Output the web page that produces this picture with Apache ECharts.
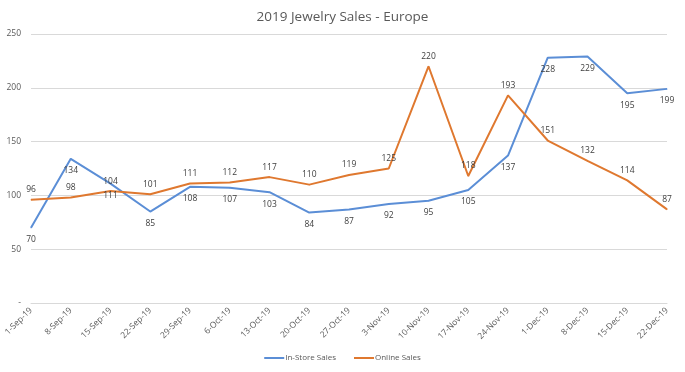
<!DOCTYPE html>
<html>
<head>
<meta charset="utf-8">
<script src="https://cdn.jsdelivr.net/npm/echarts@6/dist/echarts.min.js"></script>
<style>html,body{margin:0;padding:0;background:#fff;}#c{width:685px;height:372px;}</style>
</head>
<body>
<div id="c"></div>
<script>
const categories = ['1-Sep-19','8-Sep-19','15-Sep-19','22-Sep-19','29-Sep-19','6-Oct-19','13-Oct-19','20-Oct-19','27-Oct-19','3-Nov-19','10-Nov-19','17-Nov-19','24-Nov-19','1-Dec-19','8-Dec-19','15-Dec-19','22-Dec-19'];
const inStoreSales = [70,134,111,85,108,107,103,84,87,92,95,105,137,228,229,195,199];
const onlineSales = [96,98,104,101,111,112,117,110,119,125,220,118,193,151,132,114,87];
const seriesNames = ['In-Store Sales','Online Sales'];

const FONT = '"Open Sans", "Noto Sans", sans-serif';
const chart = echarts.init(document.getElementById('c'));
chart.setOption({
  animation: false,
  title: {
    text: '2019 Jewelry Sales - Europe',
    left: 'center', top: 5,
    textStyle: {fontFamily: FONT, fontSize: 13.5, fontWeight: 'normal', color: '#595959'}
  },
  legend: {
    bottom: 5, left: 'center',
    itemWidth: 20, itemHeight: 2, itemGap: 18,
    icon: 'rect',
    textStyle: {fontFamily: FONT, fontSize: 8, color: '#595959', padding: [0,0,0,-4]},
    data: seriesNames
  },
  grid: {left: 31, right: 18, top: 34, bottom: 69, containLabel: false},
  xAxis: {
    type: 'category', data: categories, boundaryGap: false,
    axisLine: {show: true, lineStyle: {color: '#d9d9d9'}},
    axisTick: {show: false},
    axisLabel: {rotate: 45, fontFamily: FONT, fontSize: 8.5, color: '#595959', interval: 0, margin: 6}
  },
  yAxis: {
    type: 'value', min: 0, max: 250, interval: 50,
    axisLine: {show: false}, axisTick: {show: false},
    splitLine: {lineStyle: {color: '#d9d9d9'}},
    axisLabel: {fontFamily: FONT, fontSize: 8.5, color: '#595959', margin: 10,
      formatter: v => v === 0 ? '-' : String(v)}
  },
  series: [
    {
      name: seriesNames[0], type: 'line', data: inStoreSales,
      showSymbol: true, symbol: 'circle', symbolSize: 1,
      lineStyle: {color: '#5B8ED6', width: 2}, itemStyle: {color: '#5B8ED6'},
      label: {show: true, position: 'bottom', distance: 7, fontFamily: FONT, fontSize: 8.5, color: '#404040'}
    },
    {
      name: seriesNames[1], type: 'line', data: onlineSales,
      showSymbol: true, symbol: 'circle', symbolSize: 1,
      lineStyle: {color: '#DF782F', width: 2}, itemStyle: {color: '#DF782F'},
      label: {show: true, position: 'top', distance: 5, fontFamily: FONT, fontSize: 8.5, color: '#404040'}
    }
  ]
});
</script>
</body>
</html>
